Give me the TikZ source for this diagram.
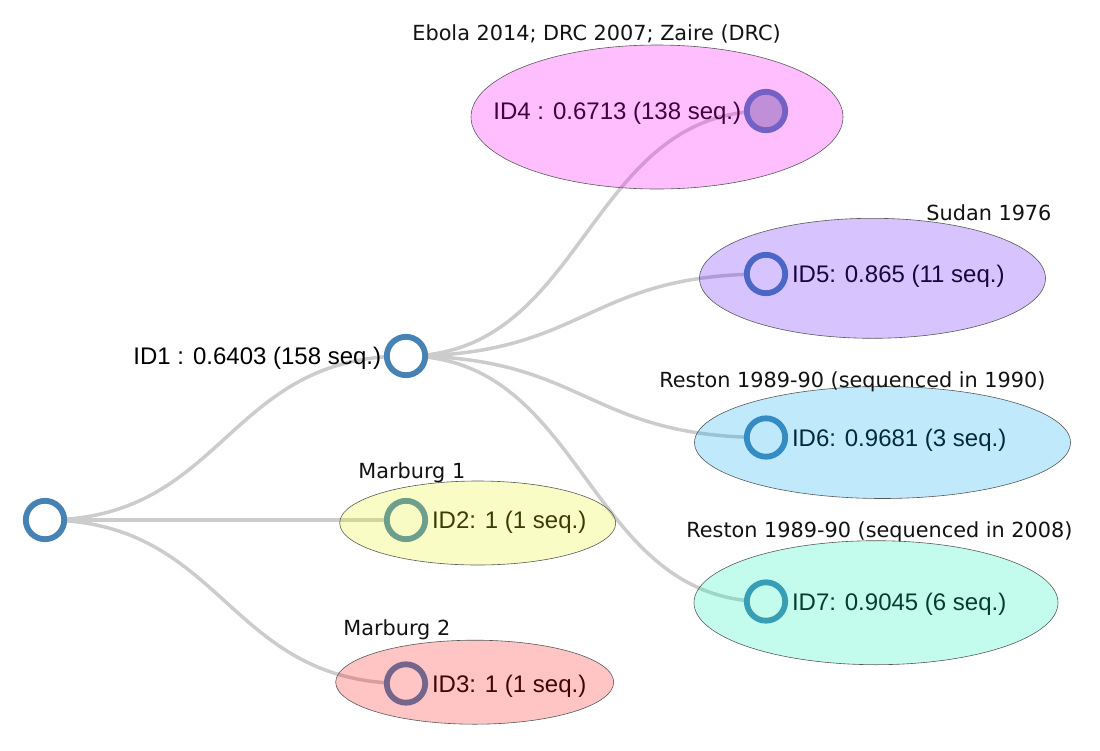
\documentclass[tikz,border=0pt]{standalone}
\usepackage{fontspec}
\setmainfont{Liberation Sans}
\newfontfamily\titlefont{DejaVu Sans}
\usepackage{tikz}
\usetikzlibrary{shapes,positioning,calc,backgrounds}
\definecolor{nodeblue}{RGB}{70,130,180}
\definecolor{collapsed}{RGB}{171,192,203}
\definecolor{linkgray}{RGB}{204,204,204}
\definecolor{zairecolor}{RGB}{255,0,255}
\definecolor{sudancolor}{RGB}{95,19,255}
\definecolor{restonAcolor}{RGB}{3,171,243}
\definecolor{restonBcolor}{RGB}{17,245,185}
\definecolor{marburgAcolor}{RGB}{231,247,23}
\definecolor{marburgBcolor}{RGB}{255,20,20}

\begin{document}
\begin{tikzpicture}[
    x=0.5pt, y=-0.5pt,
    leaf/.style={circle, draw=nodeblue, line width=2.9pt, fill=white, minimum size=19.2pt, inner sep=0pt, outer sep=0pt},
    lbl/.style={font=\fontsize{12}{14}\selectfont, inner sep=0pt, outer sep=0pt, text height=8.6pt, text depth=0pt},
    title/.style={font=\titlefont\fontsize{10.4}{12}\selectfont, text=black!93, inner sep=0pt, anchor=west, text height=7.6pt, text depth=0pt},
    group/.style={ellipse, draw=black!65, line width=0.3pt, fill opacity=0.25, inner sep=0pt},
    link/.style={draw=linkgray, line width=1.75pt,
        to path={.. controls ($(\tikztostart)!0.5!(\tikztostart-|\tikztotarget)$) and ($(\tikztotarget)!0.5!(\tikztotarget-|\tikztostart)$) .. (\tikztotarget) \tikztonodes}}
]
    \useasboundingbox (0,0) rectangle (1100,751);

    % Tree nodes
    \node[leaf] (root) at (45,520) {};
    \node[leaf] (id1) at (406,356) {};
    \foreach \n/\y in {2/520, 3/683.5} {
        \node[leaf] (id\n) at (406,\y) {};
    }
    \node[leaf, fill=collapsed] (id4) at (766,111) {};
    \foreach \n/\y in {5/274, 6/437.5, 7/601.5} {
        \node[leaf] (id\n) at (766,\y) {};
    }

    % Links, behind the nodes
    \begin{scope}[on background layer]
        \foreach \n in {1,2,3} {
            \draw[link] (root.center) to (id\n.center);
        }
        \foreach \n in {4,...,7} {
            \draw[link] (id1.center) to (id\n.center);
        }
    \end{scope}

    % Node labels
    \node[lbl, left=2.8pt of id1] {ID1 : 0.6403 (158 seq.)};
    \node[lbl, left=2.8pt of id4] {ID4 : 0.6713 (138 seq.)};
    \foreach \n/\t in {2/{ID2: 1 (1 seq.)}, 3/{ID3: 1 (1 seq.)}, 5/{ID5: 0.865 (11 seq.)}, 6/{ID6: 0.9681 (3 seq.)}, 7/{ID7: 0.9045 (6 seq.)}} {
        \node[lbl, right=3.4pt of id\n] {\t};
    }

    % Groups: translucent ellipses over the leaves
    \node[group, fill=zairecolor, minimum width=186pt, minimum height=72pt] (g4) at (657,117) {};
    \node[group, fill=sudancolor, minimum width=173pt, minimum height=60pt] (g5) at (872.5,278.3) {};
    \node[group, fill=restonAcolor, minimum width=188pt, minimum height=56pt] (g6) at (882.5,442.5) {};
    \node[group, fill=restonBcolor, minimum width=182pt, minimum height=62pt] (g7) at (876,602.7) {};
    \node[group, fill=marburgAcolor, minimum width=138pt, minimum height=42pt] (g2) at (477.7,523) {};
    \node[group, fill=marburgBcolor, minimum width=139pt, minimum height=42pt] (g3) at (474.7,682.2) {};

    % Group titles
    \node[title] (t4) at (412,33.3) {Ebola 2014; DRC 2007; Zaire (DRC)};
    \node[title] (t5) at (926,213) {Sudan 1976};
    \node[title] (t6) at (659,379.7) {Reston 1989-90 (sequenced in 1990)};
    \node[title] (t7) at (686,530.3) {Reston 1989-90 (sequenced in 2008)};
    \node[title] (t2) at (358,470.8) {Marburg 1};
    \node[title] (t3) at (343,627.5) {Marburg 2};
\end{tikzpicture}
\end{document}
